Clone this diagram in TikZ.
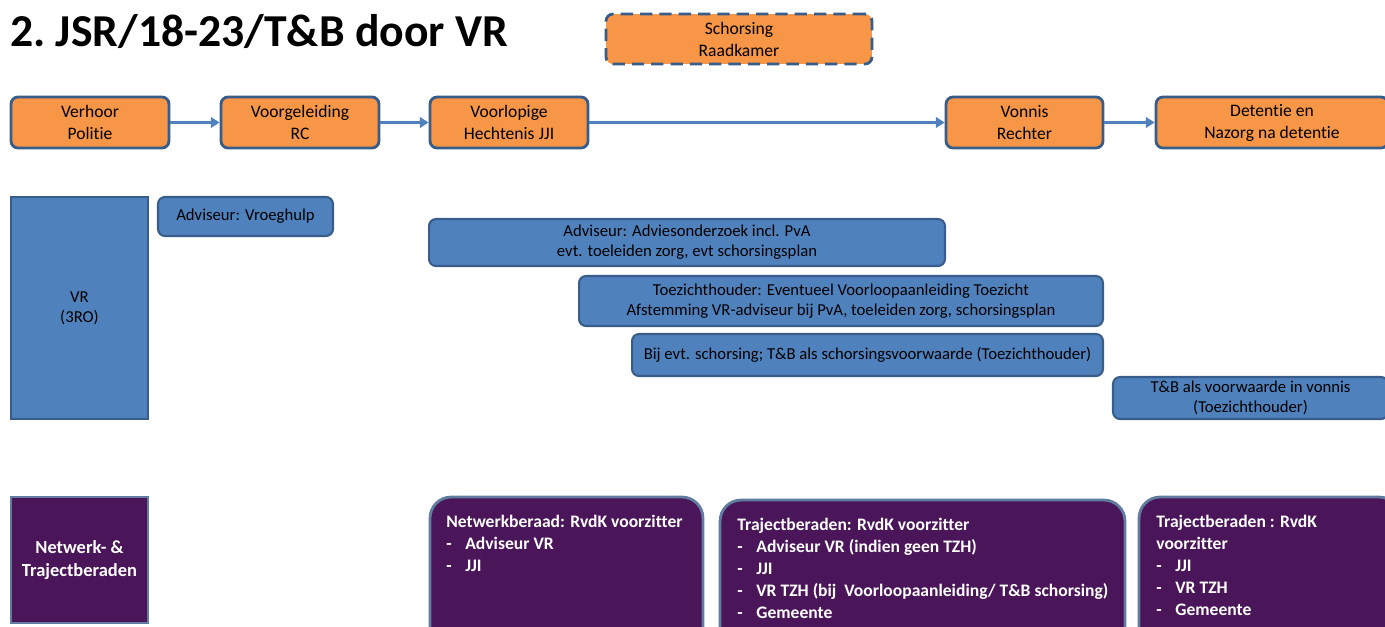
\documentclass[tikz,border=0pt]{standalone}
\usepackage{fontspec}
\setmainfont{Carlito}[Ligatures=NoCommon]
\usetikzlibrary{arrows.meta}
\definecolor{stageorange}{HTML}{F79646}
\definecolor{rowblue}{HTML}{4F81BD}
\definecolor{edgeblue}{HTML}{385D8A}
\definecolor{beraadpurple}{HTML}{4A1559}
\newcommand{\lid}[1]{\makebox[0.38cm][l]{-}#1}
\begin{document}
\begin{tikzpicture}
[x=0.02cm, y=-0.02cm,
stage/.style={draw=edgeblue, fill=stageorange, line width=1.6pt, rounded corners=4pt,
  inner sep=0pt, align=center, minimum height=1.02cm, font=\fontsize{10}{12.5}\selectfont},
task/.style={draw=edgeblue, fill=rowblue, line width=1.2pt, rounded corners=4pt,
  inner sep=0pt, align=center, font=\fontsize{9.5}{11.5}\selectfont},
beraad/.style={draw=edgeblue!80!white, fill=beraadpurple, line width=1.6pt, rounded corners=12pt,
  inner sep=0pt},
beraadtext/.style={text=white, inner sep=0pt, align=left, anchor=north west,
  font=\bfseries\fontsize{10}{12.5}\selectfont},
flow/.style={draw=rowblue, line width=1.6pt, -{Triangle[length=5pt,width=6pt]}}
]
\useasboundingbox (0,0) rectangle (1385,626);
\clip (0,0) rectangle (1385,626);

% titel
\node[anchor=base west, inner sep=0pt, font=\bfseries\fontsize{26}{30}\selectfont] (title) at (10,46)
  {2.\hspace{-2pt} JSR/18-23/T\&B door VR};

% ketenstappen
\node[stage, dashed, dash pattern=on 7pt off 4pt, minimum width=5.32cm, minimum height=1cm] (schorsing)
  at (739,39) {Schorsing\\Raadkamer};
\node[stage, minimum width=3.16cm] (verhoor) at (90,122.5) {Verhoor\\Politie};
\node[stage, minimum width=3.16cm] (rc) at (300,122.5) {Voorgeleiding\\RC};
\node[stage, minimum width=3.16cm] (vh) at (509,122.5) {Voorlopige\\Hechtenis JJI};
\node[stage, minimum width=3.14cm] (vonnis) at (1024.5,122.5) {Vonnis\\Rechter};
\node[stage, minimum width=4.64cm] (detentie) at (1272,122.5) {Detentie en\\Nazorg na detentie};

\draw[flow] (verhoor) -- (rc);
\draw[flow] (rc) -- (vh);
\draw[flow] (vh) -- (vonnis);
\draw[flow] (vonnis) -- (detentie);

% VR
\node[task, rounded corners=0pt, minimum width=2.74cm, minimum height=4.44cm] (vr) at (79.5,308) {VR\\(3RO)};
\node[task, minimum width=3.5cm, minimum height=0.78cm] (vroeghulp) at (245.5,216.5) {Adviseur: Vroeghulp};
\node[task, minimum width=10.32cm, minimum height=0.94cm] (advies) at (687,242.5)
  {Adviseur: Adviesonderzoek incl. PvA\\evt. toeleiden zorg, evt schorsingsplan};
\node[task, minimum width=10.48cm, minimum height=1cm] (tzh) at (841,301)
  {Toezichthouder: Eventueel Voorloopaanleiding Toezicht\\Afstemming VR-adviseur bij PvA, toeleiden zorg, schorsingsplan};
\node[task, minimum width=9.42cm, minimum height=0.84cm] (schorsvw) at (867.5,355)
  {Bij evt. schorsing; T\&B als schorsingsvoorwaarde (Toezichthouder)};
\node[task, minimum width=5.5cm, minimum height=0.84cm] (vonnisvw) at (1250.5,398)
  {T\&B als voorwaarde in vonnis\\(Toezichthouder)};

% beraden
\node[beraad, rounded corners=0pt, minimum width=2.74cm, minimum height=2.52cm, align=center, text=white,
  font=\bfseries\fontsize{10.5}{13}\selectfont] (beraden) at (79.5,560) {Netwerk- \&\\Trajectberaden};
\node[beraad, minimum width=5.46cm, minimum height=3.66cm] (netwerk) at (566.5,588.5) {};
\node[beraad, minimum width=8.1cm, minimum height=3.6cm] (traject) at (922.5,590) {};
\node[beraad, minimum width=5.22cm, minimum height=3.66cm] (trajectvonnis) at (1269.5,588.5) {};

\node[beraadtext] (netwerktxt) at (446,515)
  {Netwerkberaad: RvdK voorzitter\\\lid{Adviseur VR}\\\lid{JJI}};
\node[beraadtext] (trajecttxt) at (737,518)
  {Trajectberaden: RvdK voorzitter\\\lid{Adviseur VR (indien geen TZH)}\\\lid{JJI}\\
   \lid{VR TZH (bij\ \ Voorloopaanleiding/ T\&B schorsing)}\\\lid{Gemeente}};
\node[beraadtext] (trajectvonnistxt) at (1156,515)
  {Trajectberaden : RvdK\\voorzitter\\\lid{JJI}\\\lid{VR TZH}\\\lid{Gemeente}};
\end{tikzpicture}
\end{document}
